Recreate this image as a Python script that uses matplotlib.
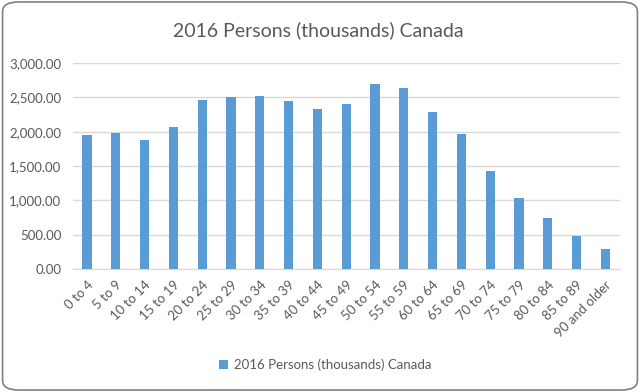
import matplotlib
matplotlib.use("Agg")
import matplotlib.pyplot as plt
from matplotlib.patches import FancyBboxPatch
from matplotlib.ticker import FuncFormatter

# Age groups and 2016 population (thousands)
age_groups = ["0 to 4", "5 to 9", "10 to 14", "15 to 19", "20 to 24", "25 to 29",
              "30 to 34", "35 to 39", "40 to 44", "45 to 49", "50 to 54", "55 to 59",
              "60 to 64", "65 to 69", "70 to 74", "75 to 79", "80 to 84", "85 to 89",
              "90 and older"]
persons = [1955, 1982, 1882, 2066, 2468, 2505, 2515, 2443, 2337, 2400, 2695, 2642,
           2293, 1968, 1430, 1030, 738, 486, 288]
series_name = "2016 Persons (thousands) Canada"

plt.rcParams["font.family"] = ["Lato", "DejaVu Sans"]

fig = plt.figure(figsize=(6.4, 3.92), dpi=100)
ax = fig.add_axes([0.1134, 0.314, 0.855, 0.525])

x = range(len(age_groups))
ax.bar(x, persons, width=0.32, color="#5b9bd5", label=series_name, zorder=3)

ax.set_xlim(-0.5, len(age_groups) - 0.5)
ax.set_ylim(0, 3000)
ax.set_yticks(range(0, 3001, 500))
ax.yaxis.set_major_formatter(FuncFormatter(lambda v, p: f"{v:,.2f}"))
ax.set_xticks(list(x))
ax.set_xticklabels(age_groups, rotation=45, ha="right", rotation_mode="anchor")

ax.grid(axis="y", color="#d9d9d9", linewidth=1, zorder=0)
for s in ["top", "right", "left"]:
    ax.spines[s].set_visible(False)
ax.spines["bottom"].set_color("#d9d9d9")
ax.tick_params(length=0, labelsize=9.5, colors="#595959")
ax.tick_params(axis="y", pad=8)
ax.tick_params(axis="x", pad=7)

fig.text(0.497, 0.923, series_name, ha="center", va="center", fontsize=14, color="#595959")

ax.legend(loc="center", bbox_to_anchor=(0.508, 0.069), bbox_transform=fig.transFigure,
          frameon=False, fontsize=9.5, labelcolor="#595959", handlelength=0.7,
          handleheight=0.7, handletextpad=0.4)

border = FancyBboxPatch((0.004, 0.005), 0.992, 0.99, boxstyle="round,pad=0,rounding_size=0.025",
                        transform=fig.transFigure, facecolor="none", edgecolor="#7f7f7f",
                        linewidth=1.2)
fig.patches.append(border)

plt.savefig("out.png", dpi=100)
